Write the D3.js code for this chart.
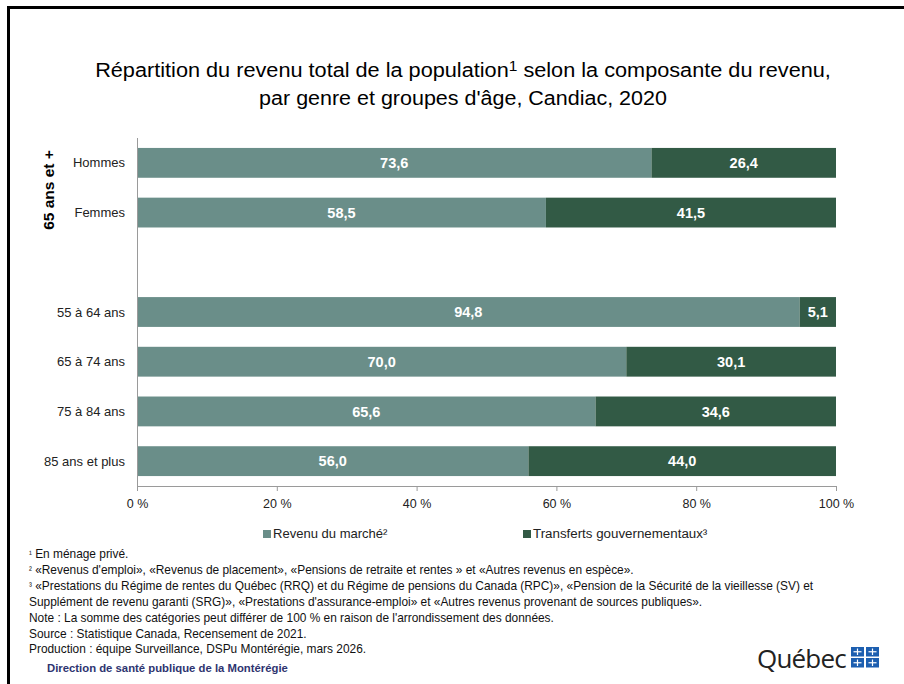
<!DOCTYPE html>
<html><head><meta charset="utf-8">
<script src="https://cdn.jsdelivr.net/npm/d3@7"></script>
<style>
body{margin:0;background:#fff;}
svg{display:block;font-family:"Liberation Sans",Arial,sans-serif;}
</style></head>
<body>
<svg id="c" width="904" height="684"></svg>
<script>
const categories = ["Hommes","Femmes","","55 à 64 ans","65 à 74 ans","75 à 84 ans","85 ans et plus"];
const marketValues = [73.6,58.5,null,94.8,70.0,65.6,56.0];
const transferValues = [26.4,41.5,null,5.1,30.1,34.6,44.0];
const seriesNames = ["Revenu du marché²","Transferts gouvernementaux³"];
const tickValues = [0,20,40,60,80,100];
const tickLabels = ["0 %","20 %","40 %","60 %","80 %","100 %"];
const groupLabel = "65 ans et +";
const footnotes = [
 ["¹"," En ménage privé."],
 ["²"," «Revenus d'emploi», «Revenus de placement», «Pensions de retraite et rentes » et  «Autres revenus en espèce»."],
 ["³"," «Prestations du Régime de rentes du Québec (RRQ) et du Régime de pensions du Canada (RPC)», «Pension de la Sécurité de la vieillesse (SV) et"],
 ["","Supplément de revenu garanti (SRG)», «Prestations d'assurance-emploi» et «Autres revenus provenant de sources publiques»."],
 ["","Note : La somme des catégories peut différer de 100 % en raison de l'arrondissement des données."],
 ["","Source : Statistique Canada, Recensement de 2021."],
 ["","Production : équipe Surveillance, DSPu Montérégie, mars 2026."]
];
const colors = ["#6a8e89","#325a45"];

const svg = d3.select("#c");
function fit(sel, cx, target){
  const w = sel.node().getBBox().width;
  const k = target / w;
  sel.attr("transform",`translate(${cx},0) scale(${k},1) translate(${-cx},0)`);
  return k;
}
function scaleX(sel, cx, k){
  sel.attr("transform",`translate(${cx},0) scale(${k},1) translate(${-cx},0)`);
}

// frame
svg.append("rect").attr("x",8.5).attr("y",7.5).attr("width",910).attr("height",700)
  .attr("fill","none").attr("stroke","#000").attr("stroke-width",3);

// title
const t = svg.append("text").attr("x",463).attr("y",77).attr("text-anchor","middle")
  .attr("font-size",21).attr("fill","#000");
t.append("tspan").text("Répartition du revenu total de la population");
t.append("tspan").text("1").attr("font-size",15).attr("dy",-6);
t.append("tspan").text(" selon la composante du revenu,").attr("dy",6);
fit(t,463,736);
const t2 = svg.append("text").attr("x",463).attr("y",105).attr("text-anchor","middle")
  .attr("font-size",21).attr("fill","#000")
  .text("par genre et groupes d'âge, Candiac, 2020");
fit(t2,463,408);

const x = d3.scaleLinear().domain([0,100]).range([137,836]);
const y = d3.scaleBand().domain(d3.range(categories.length)).range([138,486]).paddingInner(0.4).paddingOuter(0.2);

const rows = categories.map((c,i)=>({c,i,m:marketValues[i],t:transferValues[i]})).filter(d=>d.m!=null);

const g = svg.append("g");
const fmt = v=>v.toFixed(1).replace(".",",");
rows.forEach(d=>{
  const yy = y(d.i), h = y.bandwidth();
  g.append("rect").attr("x",x(0)).attr("y",yy).attr("width",x(d.m)-x(0)).attr("height",h).attr("fill",colors[0]);
  g.append("rect").attr("x",x(d.m)).attr("y",yy).attr("width",x(100)-x(d.m)).attr("height",h).attr("fill",colors[1]);
  g.append("text").attr("x",(x(0)+x(d.m))/2).attr("y",yy+h/2).attr("dy","0.36em")
    .attr("text-anchor","middle").attr("fill","#fff").attr("font-weight","bold").attr("font-size",14.5).text(fmt(d.m));
  g.append("text").attr("x",(x(d.m)+x(100))/2).attr("y",yy+h/2).attr("dy","0.36em")
    .attr("text-anchor","middle").attr("fill","#fff").attr("font-weight","bold").attr("font-size",14.5).text(fmt(d.t));
  g.append("text").attr("x",125).attr("y",yy+h/2).attr("dy","0.35em").attr("text-anchor","end")
    .attr("font-size",13).attr("fill","#222").text(d.c);
});

// axes
const xa = d3.axisBottom(x).tickValues(tickValues).tickFormat((d,i)=>tickLabels[i]).tickSize(5).tickSizeOuter(0);
const ax = svg.append("g").attr("transform","translate(0,486)").call(xa);
ax.select(".domain").attr("stroke","#9a9a9a");
ax.selectAll(".tick line").attr("stroke","#9a9a9a");
ax.selectAll(".tick text").attr("font-size",12.5).attr("fill","#222").attr("dy","1.1em").attr("font-family","'Liberation Sans',Arial,sans-serif");
svg.append("line").attr("x1",137.5).attr("x2",137.5).attr("y1",138).attr("y2",486).attr("stroke","#9a9a9a");

// group label
svg.append("text").attr("transform","translate(54,190) rotate(-90)").attr("text-anchor","middle")
  .attr("font-weight","bold").attr("font-size",15.5).attr("fill","#000").text(groupLabel);

// legend
const legX = [263,523];
const legW = [115,175];
seriesNames.forEach((n,i)=>{
  svg.append("rect").attr("x",legX[i]).attr("y",530).attr("width",8).attr("height",8).attr("fill",colors[i]);
  const lt = svg.append("text").attr("x",legX[i]+10).attr("y",538.5).attr("font-size",13.5).attr("fill","#222").text(n);
  fit(lt,legX[i]+10,legW[i]);
});

// footnotes
const fy = [558,574,590,606,622,638,653];
const fnodes = footnotes.map((f,i)=>{
  const tx = svg.append("text").attr("x",29).attr("y",fy[i]).attr("font-size",12.5).attr("fill","#111");
  if(f[0]) tx.append("tspan").text(f[0]).attr("font-size",9).attr("dy",-1);
  tx.append("tspan").text(f[1]).attr("dy",f[0]?1:0);
  return tx;
});
const kf = (815-29)/fnodes[2].node().getBBox().width;
fnodes.forEach(n=>scaleX(n,29,kf));
const dir = svg.append("text").attr("x",47).attr("y",672).attr("font-size",11.5).attr("font-weight","bold").attr("fill","#2e3470")
  .text("Direction de santé publique de la Montérégie");
fit(dir,47,241);

// Québec logo
svg.append("text").attr("x",757).attr("y",668).attr("font-size",26).attr("fill","#222")
  .attr("font-family","'Open Sans','DejaVu Sans',sans-serif").attr("letter-spacing",-0.8).text("Québec");
const sq = [[851,647],[866,647],[851,658],[866,658]];
sq.forEach(([sx,sy])=>{
  svg.append("rect").attr("x",sx).attr("y",sy).attr("width",13).attr("height",9.5).attr("fill","#1d5fb0");
  svg.append("line").attr("x1",sx+6.5).attr("x2",sx+6.5).attr("y1",sy+1.5).attr("y2",sy+8).attr("stroke","#fff").attr("stroke-width",1.2);
  svg.append("line").attr("x1",sx+2.5).attr("x2",sx+10.5).attr("y1",sy+4.75).attr("y2",sy+4.75).attr("stroke","#fff").attr("stroke-width",1.2);
});
</script>
</body></html>
